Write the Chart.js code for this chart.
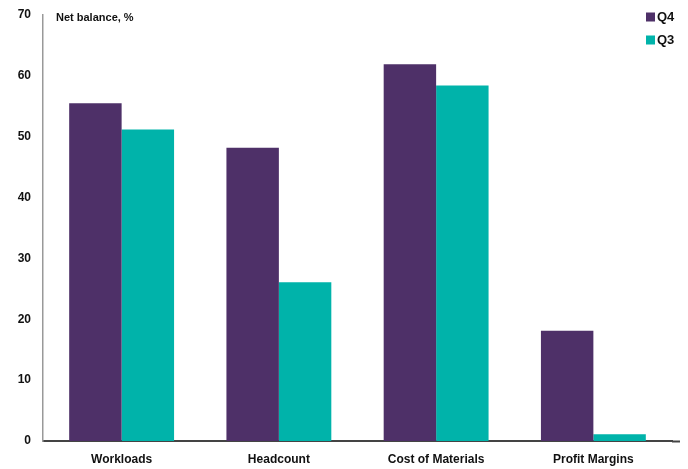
<!DOCTYPE html>
<html>
<head>
<meta charset="utf-8">
<script src="https://cdn.jsdelivr.net/npm/chart.js@4.4.1/dist/chart.umd.min.js"></script>
<style>
  html, body { margin: 0; padding: 0; background: #fff; }
  #wrap { width: 688px; height: 469px; }
</style>
</head>
<body>
<div id="wrap"><canvas id="balanceChart"></canvas></div>
<script>
// Survey net balances by category, Q4 vs Q3
const categories = ['Workloads', 'Headcount', 'Cost of Materials', 'Profit Margins'];
const q4Values = [55.5, 48.2, 61.9, 18.1];
const q3Values = [51.2, 26.1, 58.4, 1.1];
const yTicks = [0, 10, 20, 30, 40, 50, 60, 70];

const purple = '#4e3068';
const teal = '#00b3aa';
const fontFamily = '"Liberation Sans", Arial, sans-serif';

// Axis caption and the little stacked legend in the top-right corner
const annotations = {
    id: 'annotations',
    afterDraw(chart) {
        const c = chart.ctx;
        const area = chart.chartArea;
        c.save();
        c.fillStyle = '#111';
        c.font = 'bold 11px ' + fontFamily;
        c.textBaseline = 'middle';
        c.textAlign = 'left';
        c.fillText('Net balance, %', area.left + 13, 18);

        const items = [['Q4', purple], ['Q3', teal]];
        items.forEach((it, i) => {
            const y = 17 + i * 23;
            c.fillStyle = it[1];
            c.fillRect(646, y - 4.5, 9, 9);
            c.fillStyle = '#111';
            c.font = 'bold 13px ' + fontFamily;
            c.fillText(it[0], 657, y + 0.5);
        });

        // baseline runs slightly past the last category
        c.strokeStyle = '#444';
        c.lineWidth = 2;
        c.beginPath();
        c.moveTo(area.right, area.bottom + 0.5);
        c.lineTo(680, area.bottom + 0.5);
        c.stroke();
        c.restore();
    }
};

const ctx = document.getElementById('balanceChart').getContext('2d');
const balanceChart = new Chart(ctx, {
    type: 'bar',
    data: {
        labels: categories,
        datasets: [
            {
                label: 'Q4',
                data: q4Values,
                backgroundColor: purple,
                barPercentage: 1,
                categoryPercentage: 0.667
            },
            {
                label: 'Q3',
                data: q3Values,
                backgroundColor: teal,
                barPercentage: 1,
                categoryPercentage: 0.667
            }
        ]
    },
    options: {
        responsive: true,
        maintainAspectRatio: false,
        animation: false,
        layout: {
            padding: { top: 15, right: 16, left: 0, bottom: 0 }
        },
        plugins: {
            legend: { display: false },
            tooltip: { enabled: false }
        },
        scales: {
            x: {
                grid: { display: false, drawTicks: false },
                border: { display: true, color: '#444', width: 2 },
                ticks: {
                    color: '#111',
                    padding: 11,
                    font: { family: fontFamily, size: 12, weight: 'bold' }
                },
                afterFit(scale) { scale.height = 28; }
            },
            y: {
                min: 0,
                max: 70,
                afterBuildTicks(scale) {
                    scale.ticks = yTicks.map(v => ({ value: v }));
                },
                grid: { display: false, drawTicks: false },
                border: { display: true, color: '#999', width: 1.5 },
                ticks: {
                    color: '#111',
                    padding: 12,
                    font: { family: fontFamily, size: 12, weight: 'bold' }
                },
                afterFit(scale) {
                    scale.width = 43;
                    // let the top label overhang instead of shrinking the plot
                    scale.paddingTop = 0;
                    scale.paddingBottom = 0;
                }
            }
        }
    },
    plugins: [annotations]
});
</script>
</body>
</html>
